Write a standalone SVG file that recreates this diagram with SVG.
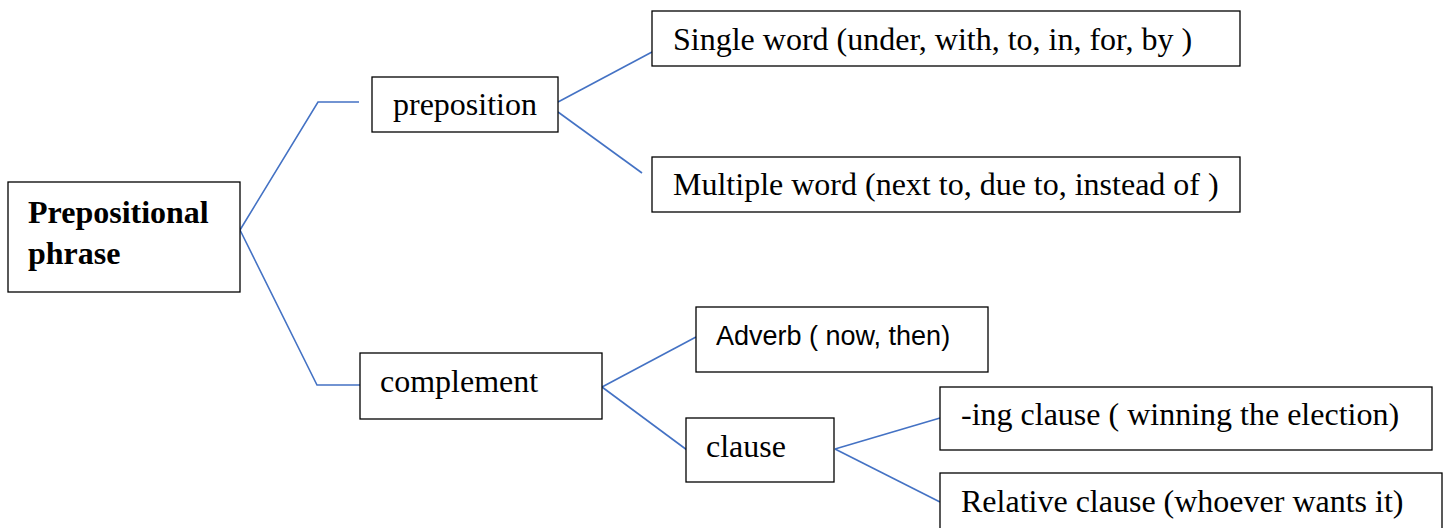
<svg xmlns="http://www.w3.org/2000/svg" width="1448" height="528" viewBox="0 0 1448 528">
<style>
.box{fill:#fff;stroke:#000;stroke-width:1.3}
.t{font-family:"Liberation Serif","Times New Roman",serif;font-size:32px;fill:#000}
.b{font-weight:bold}
.s{font-family:"Liberation Sans",Arial,sans-serif;font-size:27px;fill:#000}
.c{fill:none;stroke:#4472C4;stroke-width:1.6}
</style>
<rect width="1448" height="528" fill="#fff"/>
<g id="connectors">
<polyline class="c" points="240,230 318,102 359,102"/>
<polyline class="c" points="240,230 317,385 360,385"/>
<line class="c" x1="558" y1="102" x2="652" y2="52"/>
<line class="c" x1="558" y1="112" x2="642" y2="173"/>
<line class="c" x1="602" y1="387" x2="696" y2="337"/>
<line class="c" x1="602" y1="387" x2="687" y2="450"/>
<line class="c" x1="835" y1="449" x2="940" y2="418"/>
<line class="c" x1="835" y1="449" x2="940" y2="502"/>
</g>
<g id="root">
<rect class="box" x="8" y="182" width="232" height="110"/>
<text class="t b" x="28" y="223">Prepositional</text>
<text class="t b" x="28" y="264">phrase</text>
</g>
<g id="preposition">
<rect class="box" x="372" y="77" width="186" height="55"/>
<text class="t" x="393" y="115">preposition</text>
</g>
<g id="single">
<rect class="box" x="652" y="11" width="588" height="55"/>
<text class="t" x="673" y="50">Single word (under, with, to, in, for, by )</text>
</g>
<g id="multiple">
<rect class="box" x="652" y="157" width="588" height="55"/>
<text class="t" x="673" y="195">Multiple word (next to, due to, instead of )</text>
</g>
<g id="complement">
<rect class="box" x="360" y="353" width="242" height="66"/>
<text class="t" x="380" y="392">complement</text>
</g>
<g id="adverb">
<rect class="box" x="696" y="307" width="292" height="65"/>
<text class="s" x="716" y="345">Adverb ( now, then)</text>
</g>
<g id="clause">
<rect class="box" x="686" y="418" width="148" height="64"/>
<text class="t" x="706" y="457">clause</text>
</g>
<g id="ing">
<rect class="box" x="940" y="387" width="492" height="63"/>
<text class="t" x="961" y="425">-ing clause ( winning the election)</text>
</g>
<g id="relative">
<rect class="box" x="940" y="473" width="502" height="70"/>
<text class="t" x="961" y="512">Relative clause (whoever wants it)</text>
</g>
</svg>
